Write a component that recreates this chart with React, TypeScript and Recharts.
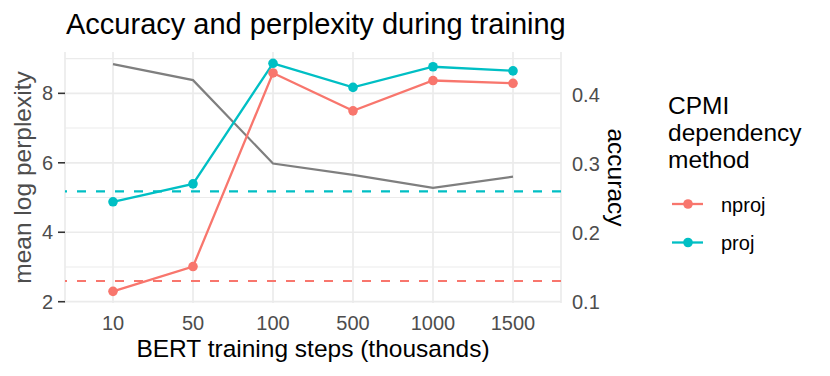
import React from 'react';
import { ComposedChart, Line, CartesianGrid, XAxis, YAxis, ReferenceLine } from 'recharts';

// BERT training steps (thousands)
const steps = ['10', '50', '100', '500', '1000', '1500'];
// mean log perplexity (grey line, left axis)
const perplexity = [8.84, 8.38, 5.98, 5.65, 5.28, 5.6];
// accuracy per CPMI dependency method (right axis)
const nprojAcc = [0.115, 0.151, 0.432, 0.377, 0.421, 0.417];
const projAcc = [0.245, 0.271, 0.446, 0.411, 0.441, 0.435];
// dashed baselines (right axis)
const nprojBaseline = 0.13;
const projBaseline = 0.26;

const leftTicks = [2, 4, 6, 8];
const leftMinor = [3, 5, 7, 9];
const rightTicks = [0.1, 0.2, 0.3, 0.4];

const methods = [
  { key: 'nproj', label: 'nproj', color: '#F8766D', baseline: nprojBaseline },
  { key: 'proj', label: 'proj', color: '#00BFC4', baseline: projBaseline },
];

const data = steps.map((s, i) => ({
  step: s,
  perplexity: perplexity[i],
  nproj: nprojAcc[i],
  proj: projAcc[i],
}));

const font = '"Liberation Sans", Arial, Helvetica, sans-serif';
const tickStyle = { fill: '#4d4d4d', fontSize: 20, fontFamily: font };
const titleSize = 24.5;

const App: React.FC = () => {
  return (
    <div style={{ position: 'absolute', left: 0, top: 0, width: 830, height: 376, background: '#fff' }}>
      <ComposedChart
        width={830}
        height={376}
        data={data}
        margin={{ top: 52, right: 199, bottom: 0, left: 0 }}
      >
        <CartesianGrid
          yAxisId="left"
          horizontalValues={leftMinor}
          vertical={false}
          stroke="#ebebeb"
          strokeWidth={1.1}
        />
        <CartesianGrid
          yAxisId="left"
          horizontalValues={leftTicks}
          stroke="#ebebeb"
          strokeWidth={1.7}
        />
        <XAxis
          dataKey="step"
          scale="point"
          padding={{ left: 48, right: 48 }}
          height={73}
          axisLine={false}
          tickLine={false}
          tickSize={6}
          tickMargin={7}
          tick={tickStyle}
          interval={0}
          label={({ viewBox }: any) => (
            <text
              x={viewBox.x + viewBox.width / 2}
              y={357}
              textAnchor="middle"
              fontSize={titleSize}
              fontFamily={font}
              fill="#000"
            >
              BERT training steps (thousands)
            </text>
          )}
        />
        <YAxis
          yAxisId="left"
          type="number"
          domain={[1.963, 9.19]}
          ticks={leftTicks}
          width={65}
          axisLine={false}
          tickLine={{ stroke: '#333333', strokeWidth: 1.6 }}
          tickSize={7}
          tickMargin={5}
          tick={tickStyle}
          interval={0}
          label={({ viewBox }: any) => {
            const cy = viewBox.y + viewBox.height / 2;
            return (
              <text
                x={31}
                y={cy}
                transform={`rotate(-90 31 ${cy})`}
                textAnchor="middle"
                fontSize={titleSize}
                fontFamily={font}
                fill="#4d4d4d"
              >
                mean log perplexity
              </text>
            );
          }}
        />
        <YAxis
          yAxisId="right"
          orientation="right"
          type="number"
          domain={[0.0981, 0.4624]}
          ticks={rightTicks}
          width={70}
          axisLine={false}
          tickLine={false}
          tickSize={6}
          tickMargin={5}
          tick={tickStyle}
          interval={0}
          label={({ viewBox }: any) => {
            const cy = viewBox.y + viewBox.height / 2;
            return (
              <text
                x={608}
                y={cy}
                transform={`rotate(90 608 ${cy})`}
                textAnchor="middle"
                fontSize={titleSize}
                fontFamily={font}
                fill="#000"
              >
                accuracy
              </text>
            );
          }}
        />
        {methods.map((m) => (
          <ReferenceLine
            key={`base-${m.key}`}
            yAxisId="right"
            y={m.baseline}
            stroke={m.color}
            strokeWidth={2.2}
            strokeDasharray="9 10"
          />
        ))}
        <Line
          yAxisId="left"
          type="linear"
          dataKey="perplexity"
          stroke="#7f7f7f"
          strokeWidth={2.2}
          dot={false}
          isAnimationActive={false}
        />
        {methods.map((m) => (
          <Line
            key={m.key}
            yAxisId="right"
            type="linear"
            dataKey={m.key}
            stroke={m.color}
            strokeWidth={2.3}
            dot={{ r: 4.8, fill: m.color, stroke: 'none' }}
            activeDot={false}
            isAnimationActive={false}
          />
        ))}
      </ComposedChart>
      <svg
        width={830}
        height={376}
        style={{ position: 'absolute', left: 0, top: 0, pointerEvents: 'none' }}
      >
        <text x={66} y={34} fontSize={29} fontFamily={font} fill="#000">
          Accuracy and perplexity during training
        </text>
        <g fontFamily={font} fontSize={titleSize} fill="#000">
          <text x={668} y={113.5}>CPMI</text>
          <text x={668} y={140.5}>dependency</text>
          <text x={668} y={167.5}>method</text>
        </g>
        {methods.map((m, i) => {
          const y = 204 + i * 38.5;
          return (
            <g key={m.key}>
              <line x1={672} x2={703} y1={y} y2={y} stroke={m.color} strokeWidth={2.3} />
              <circle cx={688} cy={y} r={4.8} fill={m.color} />
              <text x={721} y={y + 7.5} fontSize={20} fontFamily={font} fill="#000">
                {m.label}
              </text>
            </g>
          );
        })}
      </svg>
    </div>
  );
};

export default App;
